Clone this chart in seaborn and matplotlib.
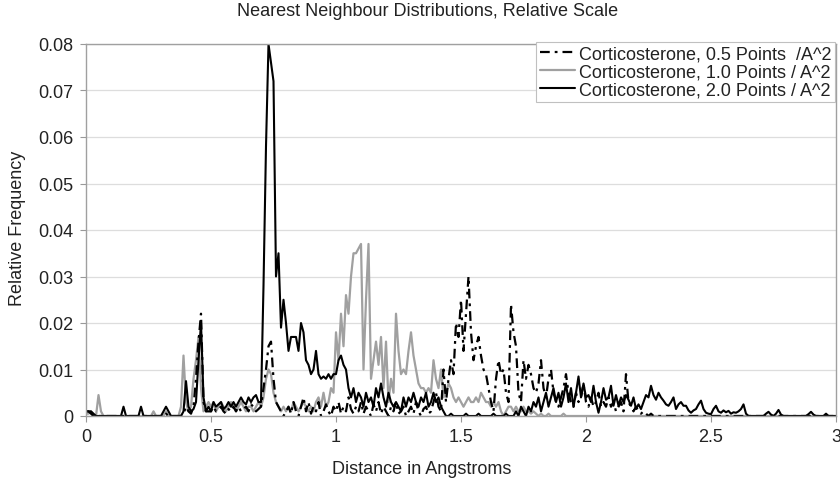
import numpy as np
import pandas as pd
import matplotlib
matplotlib.use("Agg")
import matplotlib.pyplot as plt
import seaborn as sns

sns.set_theme(style="white")
plt.rcParams['font.family'] = ['Liberation Sans', 'DejaVu Sans']
plt.rcParams['lines.scale_dashes'] = False

# relative frequency (x 0.001), one value every 0.01 Angstrom from 0.00 to 3.00
pts_05 = [
    1, 1, 0.5, 0, 0, 0, 0, 0, 0, 0,          # 0.00
    0, 0, 0, 0, 0, 0, 0, 0, 0, 0,            # 0.10
    0, 0, 0, 0, 0, 0, 0, 0, 0, 0,            # 0.20
    0, 0, 0.5, 0, 0, 0, 0, 0, 0, 0.5,        # 0.30
    2, 1, 0.5, 2, 8, 16, 22, 3, 1, 1,        # 0.40
    1, 2, 1, 1.5, 2, 1, 0.5, 1.5, 1, 2,      # 0.50
    1, 2, 1, 1.5, 2, 1, 2.5, 2, 1, 1.5,      # 0.60
    2, 6, 10, 15, 16, 8, 3, 2, 1, 0,         # 0.70
    1, 2, 0.5, 3, 1, 0, 2, 4, 1, 3,          # 0.80
    0.5, 2, 1, 3, 0, 1, 2.5, 1, 0, 2,        # 0.90
    1, 3, 0.5, 2, 1, 4, 1.5, 0.5, 2, 1,      # 1.00
    3, 0.5, 2, 1, 0, 2.5, 1, 3, 0.5, 2,      # 1.10
    1, 0, 2, 1, 3, 0.5, 1, 2, 0, 1,          # 1.20
    2, 0.5, 3, 1, 0, 1.5, 2, 0.5, 1, 3,      # 1.30
    5, 2, 1, 10, 3, 8, 12, 9, 20, 17,        # 1.40
    25, 14, 22, 30, 18, 12, 15, 17, 13, 10,  # 1.50
    9, 6, 3, 1, 8, 12, 9, 10, 5, 3,          # 1.60
    24, 18, 15, 5, 3, 12, 8, 11, 9, 6,       # 1.70
    5, 7, 12, 6, 4, 8, 10, 5, 3, 2,          # 1.80
    4, 6, 9, 5, 3, 2, 5, 3, 4, 7,            # 1.90
    3, 2, 4, 2, 3, 5, 2, 3, 2, 4,            # 2.00
    2, 3, 1, 2, 3, 1, 9, 3, 2, 1,            # 2.10
    2, 1, 0.5, 1, 0.5, 0, 0.5, 0, 0, 0,      # 2.20
    0, 0, 0, 0, 0, 0, 0, 0, 0, 0,            # 2.30
    0, 0, 0, 0, 0, 0, 0, 0, 0, 0,            # 2.40
    0, 0, 0, 0, 0, 0, 0, 0, 0, 0,            # 2.50
    0, 0, 0, 0, 0, 0, 0, 0, 0, 0,            # 2.60
    0, 0, 0, 0, 0, 0, 0, 0, 0, 0,            # 2.70
    0, 0, 0, 0, 0, 0, 0, 0, 0, 0,            # 2.80
    0, 0, 0, 0, 0, 0, 0, 0, 0, 0,            # 2.90
    0,                                       # 3.00
]

pts_10 = [
    0.5, 0.5, 1, 0, 0, 4.5, 1, 0, 0, 0,      # 0.00
    0, 0, 0, 0, 0, 0, 0, 0, 0, 0,            # 0.10
    0, 0, 0, 0, 0, 0, 0, 1, 0, 0,            # 0.20
    0, 0, 1, 0, 0, 0, 0, 0, 2, 13,           # 0.30
    3, 1, 2, 8, 12, 17, 6, 1, 2, 3,          # 0.40
    2, 3, 1, 2, 3, 2, 1, 2, 3, 2,            # 0.50
    1, 2, 3, 2, 1, 2, 2, 1, 2, 3,            # 0.60
    2, 4, 8, 10, 9, 5, 3, 2, 1, 2,           # 0.70
    1, 2, 1, 3, 2, 1, 2, 3, 2, 1,            # 0.80
    2, 1, 3, 4, 2, 5, 2, 3, 6, 5,            # 0.90
    18, 12, 22, 15, 26, 22, 30, 35, 35, 36,  # 1.00
    37, 10, 25, 37, 8, 12, 16, 11, 17, 6,    # 1.10
    16, 3, 8, 5, 22, 14, 9, 10, 9, 14,       # 1.20
    18, 13, 10, 7, 6, 6, 5, 6, 5, 12,        # 1.30
    8, 6, 10, 4, 5, 7, 6, 4, 3, 4,           # 1.40
    3, 2, 3, 4, 3, 3, 4, 3, 5, 4,            # 1.50
    3, 3, 2, 3, 2, 3, 1, 0, 1, 2,            # 1.60
    2, 1, 2, 1, 1, 2, 1, 1, 0.5, 1,          # 1.70
    0.5, 0, 0.5, 0, 0, 0.5, 0, 0, 0, 0,      # 1.80
    0, 0.5, 0, 0, 0, 0, 0, 0, 0, 0,          # 1.90
    0, 0, 0, 0, 0, 0, 0, 0, 0, 0,            # 2.00
    0, 0, 0, 0, 0, 0, 0, 0, 0, 0,            # 2.10
    0, 0, 0, 0, 0, 0, 0, 0, 0, 0,            # 2.20
    0, 0, 0, 0, 0, 0, 0, 0, 0, 0,            # 2.30
    0, 0, 0, 0, 0, 0, 0, 0, 0, 0,            # 2.40
    0, 0, 0, 0, 0, 0, 0, 0, 0, 0,            # 2.50
    0, 0, 0, 0, 0, 0, 0, 0, 0, 0,            # 2.60
    0, 0, 0, 0, 0, 0, 0, 0, 0, 0,            # 2.70
    0, 0, 0, 0, 0, 0, 0, 0, 0, 0,            # 2.80
    0, 0, 0, 0, 0, 0, 0, 0, 0, 0,            # 2.90
    0,                                       # 3.00
]

pts_20 = [
    1, 1, 1, 0.5, 0, 0, 0, 0, 0, 0,          # 0.00
    0, 0, 0, 0, 0, 2, 0, 0, 0, 0,            # 0.10
    0, 0, 2, 0, 0, 0, 0, 0, 0, 0,            # 0.20
    0, 1, 2, 1, 0, 0, 0, 0, 0, 1,            # 0.30
    7.5, 2, 1, 1.5, 3, 12, 20, 4, 1, 2,      # 0.40
    1, 3, 2, 2.5, 3, 1.5, 2, 3, 2, 3,        # 0.50
    2, 3, 4, 3, 2.5, 4, 3, 4, 4.5, 3,        # 0.60
    3, 28, 58, 80, 76, 72, 30, 35, 19, 25,   # 0.70
    20, 14, 17, 17, 17, 14, 20, 18, 12, 11,  # 0.80
    9, 10, 14, 9, 8, 8.5, 8, 9, 8, 9,        # 0.90
    9, 12, 13, 11, 10, 6, 4, 6, 3, 5,        # 1.00
    4, 2, 5, 3, 4, 2, 6, 4, 7, 4,            # 1.10
    2, 5, 3, 2, 3, 2, 1, 4, 2, 4,            # 1.20
    3, 5, 3, 2, 4, 3, 5, 2, 3, 5,            # 1.30
    3, 4, 2, 1, 0, 0, 0.5, 0, 0, 0,          # 1.40
    0, 0, 0.5, 0, 0, 0, 0, 0.5, 0, 0,        # 1.50
    0, 0, 0, 0.5, 0, 0, 0, 0, 0.5, 0,        # 1.60
    0, 0, 1, 0, 2, 1, 0, 2, 1, 3,            # 1.70
    2, 4, 1, 3, 5, 2, 4, 6, 3, 5,            # 1.80
    2, 4, 7, 3, 6, 2, 5, 8.5, 4, 7,          # 1.90
    4, 4.5, 3, 6.5, 3, 0.7, 3, 6, 3.5, 4,    # 2.00
    6.5, 2.2, 4.5, 2.2, 4, 3, 4.5, 3.5, 2.2, 4,  # 2.10
    1.5, 2.5, 1.5, 3, 4.5, 4, 6.5, 4.5, 3.5, 5,  # 2.20
    4, 3.3, 2.5, 2.2, 3, 4, 1.5, 2.5, 3, 2.2,    # 2.30
    2.2, 1.2, 0.7, 1.2, 1.5, 2.5, 3.3, 1.5, 0.7, 0.5,  # 2.40
    0.4, 1.5, 2.2, 1, 0.7, 1.2, 0.8, 1.1, 0.5, 0.8,    # 2.50
    0.7, 1, 1.5, 2.5, 0.5, 0, 0, 0, 0, 0,    # 2.60
    0, 0, 0.5, 0.9, 0.3, 0, 0.5, 1.3, 0.3, 0,  # 2.70
    0, 0, 0, 0, 0, 0, 0, 0, 0, 0.4,          # 2.80
    0.9, 0.3, 0, 0, 0, 0, 0.5, 0, 0, 0,      # 2.90
    0,                                       # 3.00
]

labels = ["Corticosterone, 0.5 Points  /A^2",
          "Corticosterone, 1.0 Points / A^2",
          "Corticosterone, 2.0 Points / A^2"]
y_ticks = [0, 0.01, 0.02, 0.03, 0.04, 0.05, 0.06, 0.07, 0.08]
x_ticks = [0, 0.5, 1, 1.5, 2, 2.5, 3]


def to_frame(vals):
    d = pd.DataFrame({"freq": np.array(vals) * 0.001})
    d["dist"] = np.round(np.arange(len(d)) * 0.01, 2)
    return d


df05 = to_frame(pts_05)
df10 = to_frame(pts_10)
df20 = to_frame(pts_20)

fig = plt.figure(figsize=(8.4, 4.81), dpi=100)
ax = fig.add_axes([86 / 840, 1 - 417 / 481, 750 / 840, 372 / 481])

sns.lineplot(data=df10, x="dist", y="freq", ax=ax, color="#a0a0a0", lw=1.6, label=labels[1])
sns.lineplot(data=df05, x="dist", y="freq", ax=ax, color="black", lw=1.6,
             linestyle=(0, (7, 3.6, 2, 3.6)), label=labels[0])
sns.lineplot(data=df20, x="dist", y="freq", ax=ax, color="black", lw=1.5, label=labels[2])

ax.set_xlim(0, 3)
ax.set_ylim(0, 0.08)
ax.set_xticks(x_ticks)
ax.set_xticklabels(["0", "0.5", "1", "1.5", "2", "2.5", "3"])
ax.set_yticks(y_ticks)
ax.set_yticklabels(["0", "0.01", "0.02", "0.03", "0.04", "0.05", "0.06", "0.07", "0.08"])
ax.yaxis.grid(True, color="#dddddd", lw=0.9)
ax.set_axisbelow(True)
ax.tick_params(axis="both", labelsize=13, colors="#222222", length=4, width=0.8,
               direction="out", bottom=True, left=True, pad=5)
ax.tick_params(axis="both", color="#999999")
for s in ax.spines.values():
    s.set_color("#a0a0a0")
    s.set_linewidth(1.0)
ax.set_xlabel("")
ax.set_ylabel("")

fig.text(428 / 840, 1 - 12 / 481, "Nearest Neighbour Distributions, Relative Scale",
         ha="center", va="center", fontsize=13, color="#222222")
fig.text(422 / 840, 1 - 470 / 481, "Distance in Angstroms",
         ha="center", va="center", fontsize=13, color="#222222")
fig.text(18 / 840, 1 - 228 / 481, "Relative Frequency", rotation=90,
         ha="center", va="center", fontsize=13, color="#222222")

h, l = ax.get_legend_handles_labels()
order = [l.index(t) for t in labels]
leg = ax.legend([h[i] for i in order], [l[i] for i in order],
                loc="upper right", bbox_to_anchor=(835 / 840, 1 - 43 / 481),
                bbox_transform=fig.transFigure, borderaxespad=0,
                fontsize=13, frameon=True, fancybox=False, framealpha=1,
                edgecolor="#c0c0c0", handlelength=1.95, handletextpad=0.2,
                labelspacing=0.05, borderpad=0.2)
leg.get_frame().set_linewidth(0.8)
for t in leg.get_texts():
    t.set_color("#222222")

fig.savefig("out.png", dpi=100)
